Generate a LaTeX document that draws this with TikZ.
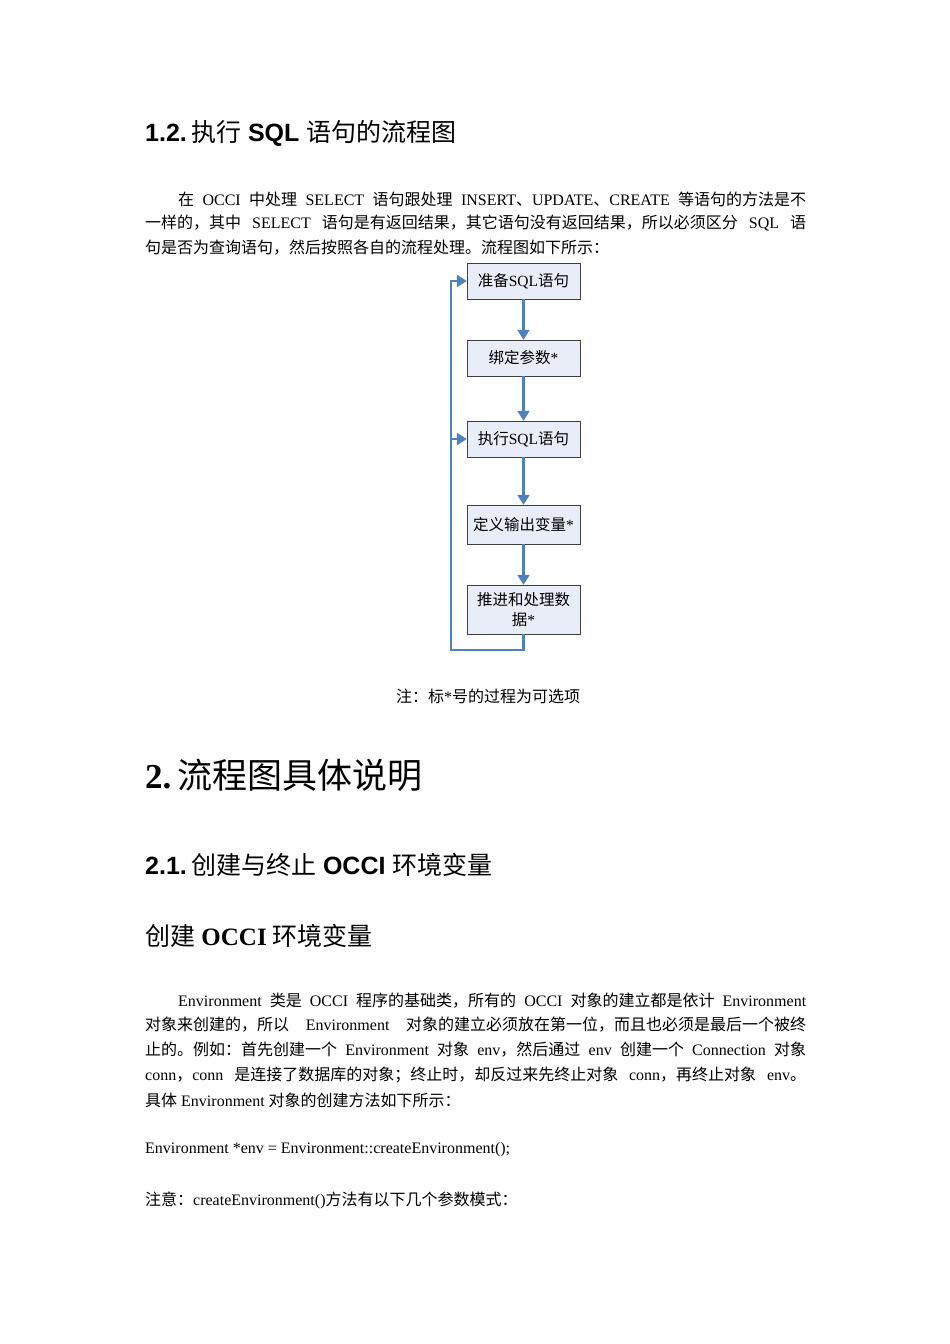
\documentclass[tikz,border=0pt]{standalone}
\usepackage{fontspec}
\setmainfont{Liberation Serif}
\setsansfont{Liberation Sans}
\newfontfamily\cjk{Noto Sans CJK SC}
\usetikzlibrary{arrows.meta}
\XeTeXlinebreaklocale "zh"
\XeTeXlinebreakskip=0pt plus 1fil
\definecolor{ablue}{HTML}{4F81BD}
\definecolor{bfill}{HTML}{E9EDF7}
\tikzset{
 ln/.style={anchor=west,inner sep=0pt,font=\fontsize{16}{19}\selectfont},
 fbox/.style={draw=black!75,fill=bfill,minimum width=113pt,inner sep=2pt,font=\fontsize{15.5}{20}\selectfont,align=center},
 farr/.style={draw=ablue,line width=2.2pt,-{Triangle[length=10pt,width=12pt]}},
}
\newcommand{\C}[1]{{\cjk #1}}
\newcommand{\FL}[1]{\hbox to 661pt{#1}}
\newcommand{\FI}[1]{\hbox to 628pt{#1}}
\begin{document}
\begin{tikzpicture}[x=1pt,y=-1pt]
\useasboundingbox (0,0) rectangle (950,1344);
\node[ln,font=\fontsize{25}{29}\selectfont] (h12) at (145,133) {\sffamily\bfseries 1.2.\,\mdseries\C{执行} \bfseries SQL \mdseries\C{语句的流程图}};
\node[ln] (p1) at (178,199) {\FI{\C{在} OCCI \C{中处理} SELECT \C{语句跟处理} INSERT\C{、}UPDATE\C{、}CREATE \C{等语句的方法是不}}};
\node[ln] (p2) at (145,223) {\FL{\C{一样的，其中} SELECT \C{语句是有返回结果，其它语句没有返回结果，所以必须区分} SQL \C{语}}};
\node[ln] (p3) at (145,248) {\C{句是否为查询语句，然后按照各自的流程处理。流程图如下所示：}};

\node[fbox,minimum height=36pt] (b1) at (523.5,281) {\C{准备}SQL\C{语句}};
\node[fbox,minimum height=36pt] (b2) at (523.5,358) {\C{绑定参数}*};
\node[fbox,minimum height=36pt] (b3) at (523.5,439) {\C{执行}SQL\C{语句}};
\node[fbox,minimum height=39pt] (b4) at (523.5,524.5) {\C{定义输出变量}*};
\node[fbox,minimum height=49pt] (b5) at (523.5,609.5) {\C{推进和处理数}\\\C{据}*};
\draw[farr] (b1) -- (b2);
\draw[farr] (b2) -- (b3);
\draw[farr] (b3) -- (b4);
\draw[farr] (b4) -- (b5);
\coordinate (c1) at (523.5,650);
\coordinate (c2) at (451,650);
\draw[draw=ablue,line width=2.2pt] (b5.south) -- (c1) -- (c2) -- (c2 |- b3.west);
\draw[farr] (c2 |- b3.west) -- (b3.west);
\draw[farr] (c2 |- b3.west) -- (c2 |- b1.west) -- (b1.west);

\node[ln] (cap) at (396,696) {\C{注：标}*\C{号的过程为可选项}};

\node[ln,font=\fontsize{35}{40}\selectfont] (h2) at (145,775) {\bfseries 2.\,\mdseries\C{流程图具体说明}};
\node[ln,font=\fontsize{25}{29}\selectfont] (h21) at (145,865) {\sffamily\bfseries 2.1.\,\mdseries\C{创建与终止} \bfseries OCCI \mdseries\C{环境变量}};
\node[ln,font=\fontsize{25}{30}\selectfont] (h3) at (145,936) {\C{创建} \bfseries OCCI \mdseries\C{环境变量}};

\node[ln] (q1) at (178,1001) {\FI{Environment \C{类是} OCCI \C{程序的基础类，所有的} OCCI \C{对象的建立都是依计} Environment}};
\node[ln] (q2) at (145,1025) {\FL{\C{对象来创建的，所以} Environment \C{对象的建立必须放在第一位，而且也必须是最后一个被终}}};
\node[ln] (q3) at (145,1050) {\FL{\C{止的。例如：首先创建一个} Environment \C{对象} env\C{，然后通过} env \C{创建一个} Connection \C{对象}}};
\node[ln] (q4) at (145,1075) {\FL{conn\C{，}conn \C{是连接了数据库的对象；终止时，却反过来先终止对象} conn\C{，再终止对象} env\C{。}}};
\node[ln] (q5) at (145,1100) {\C{具体} Environment \C{对象的创建方法如下所示：}};
\node[ln] (code) at (145,1150) {Environment *env = Environment::createEnvironment();};
\node[ln] (note) at (145,1200) {\C{注意：}createEnvironment()\C{方法有以下几个参数模式：}};
\end{tikzpicture}
\end{document}
